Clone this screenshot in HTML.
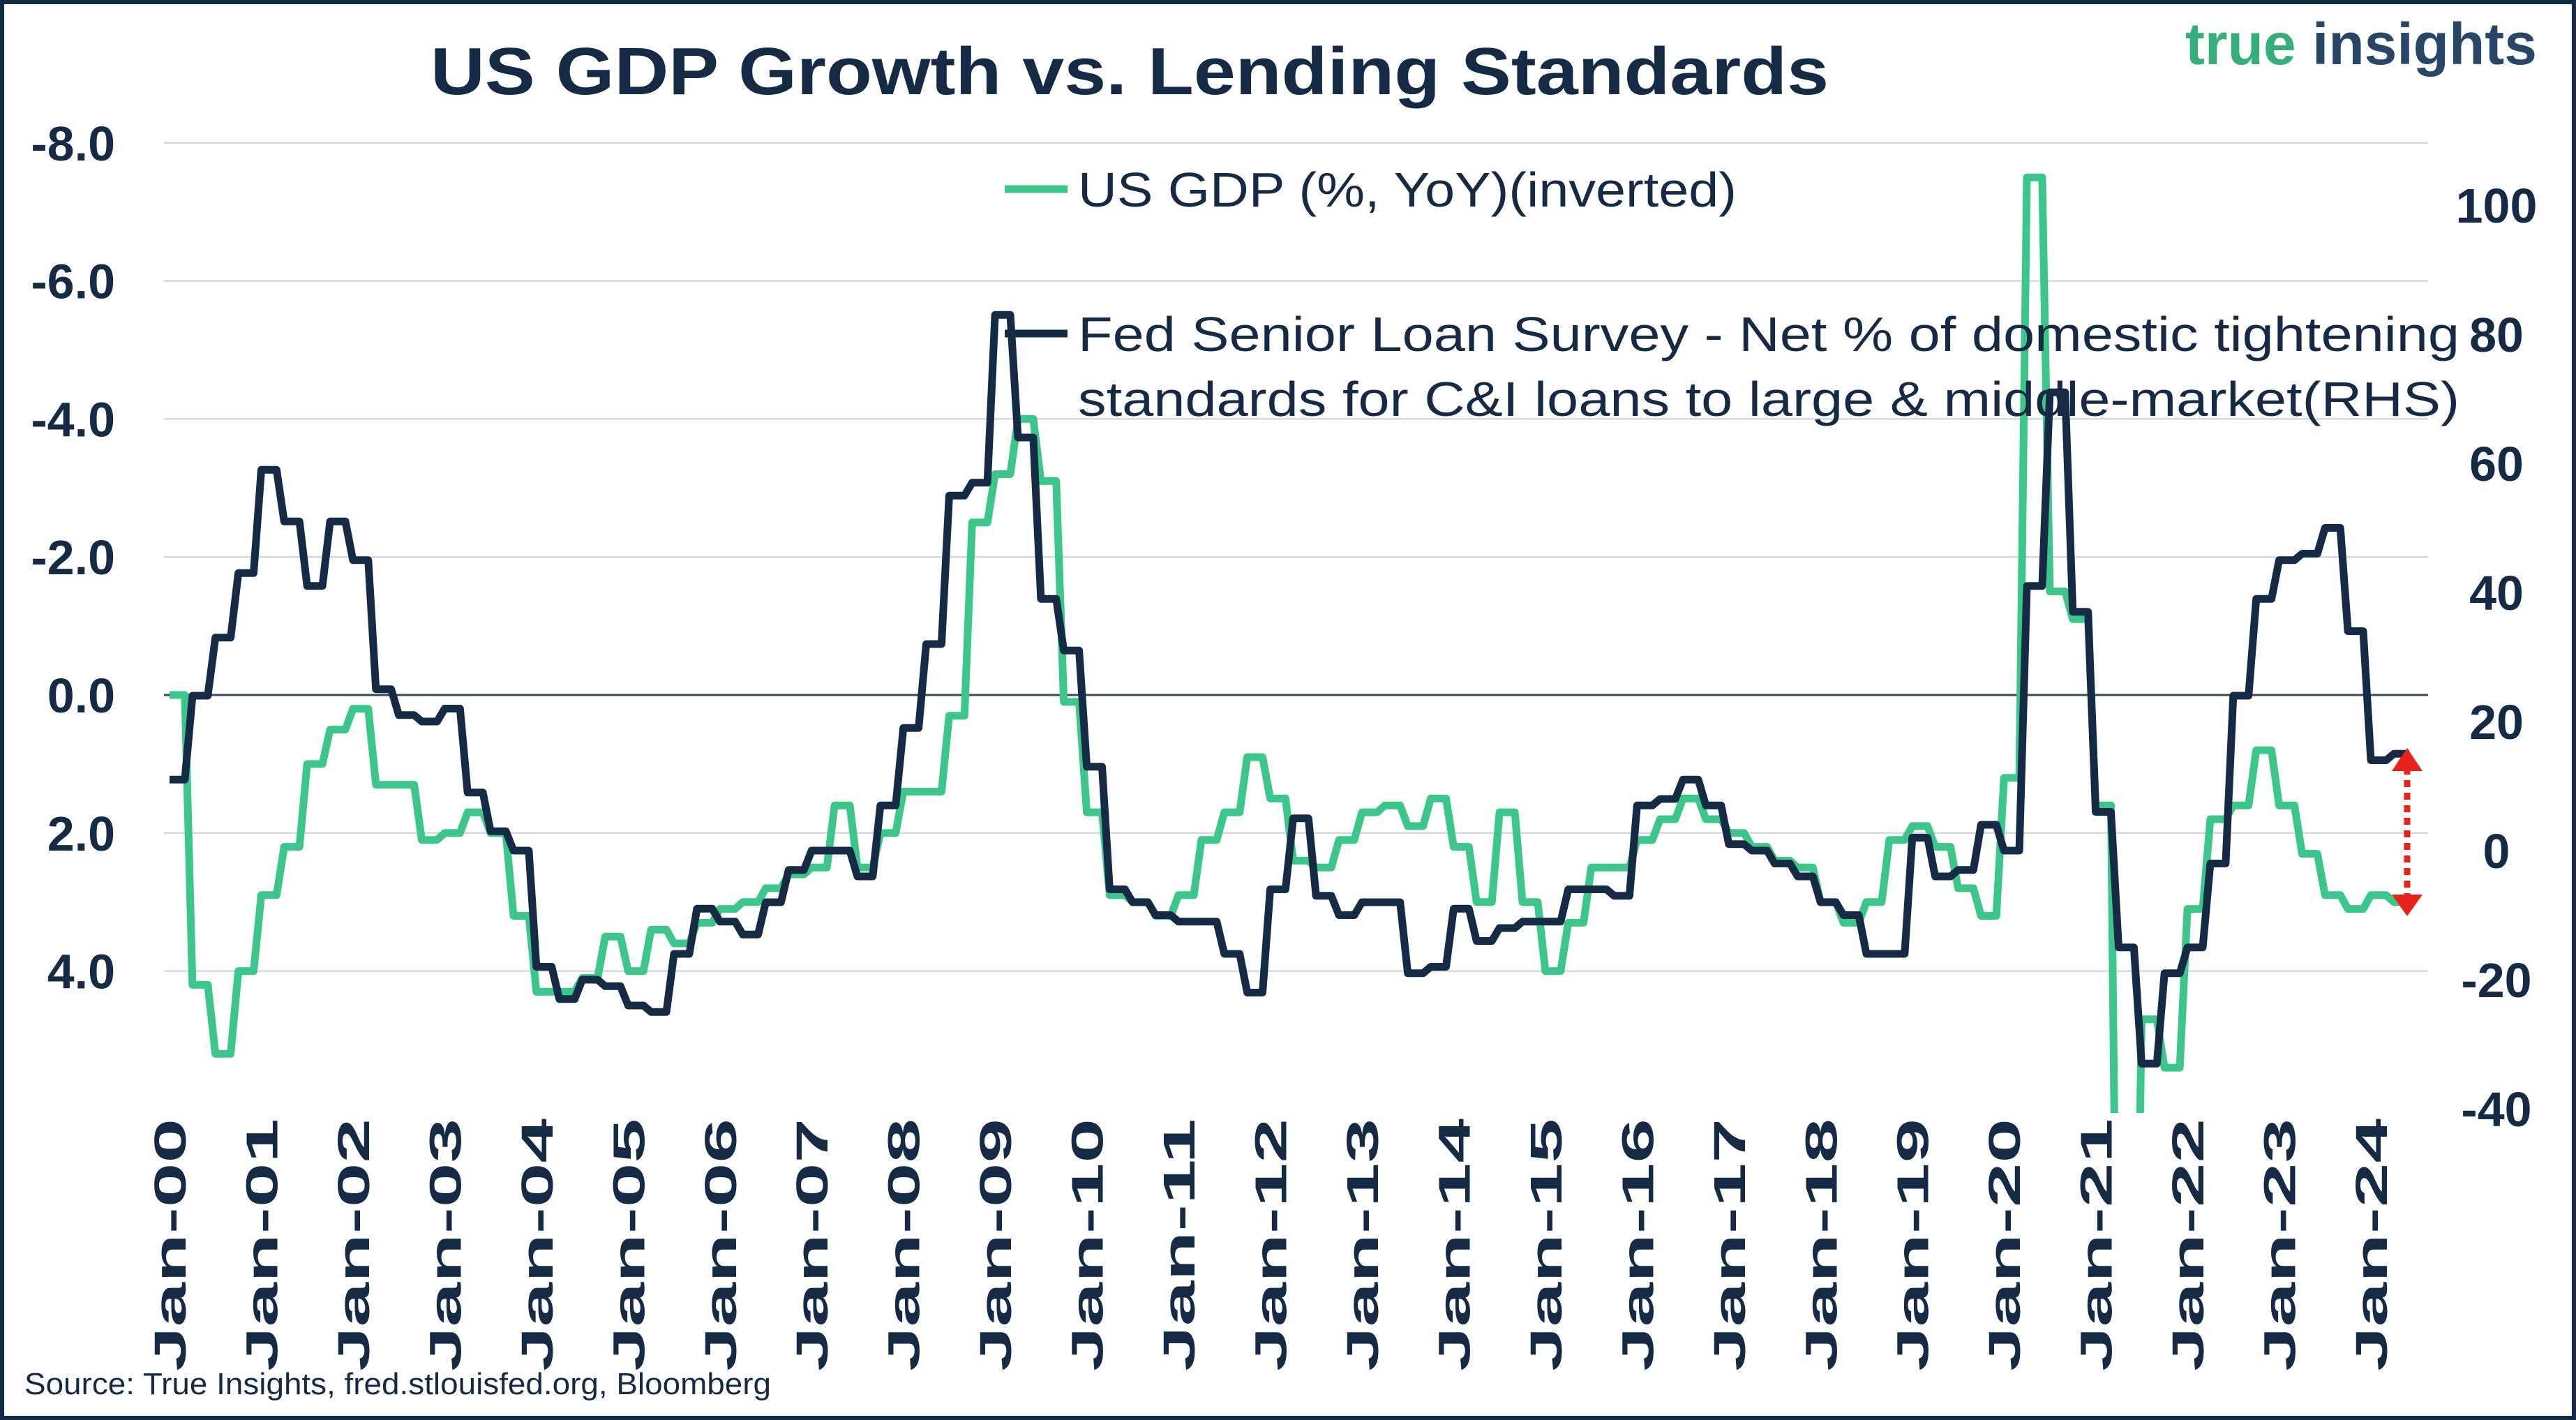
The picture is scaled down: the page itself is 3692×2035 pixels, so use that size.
<!DOCTYPE html>
<html><head><meta charset="utf-8">
<style>
html,body{margin:0;padding:0;background:#fff;width:3692px;height:2035px;overflow:hidden;}
svg{display:block;}
text{font-family:"Liberation Sans",sans-serif;fill:#152a45;}
</style></head>
<body>
<svg id="chart" width="3692" height="2035" viewBox="0 0 3692 2035" xmlns="http://www.w3.org/2000/svg">
<rect x="3" y="3" width="3686" height="2029" fill="#fff" stroke="#152a45" stroke-width="6"/>
<text x="617" y="135" font-size="96" font-weight="bold" textLength="2004" lengthAdjust="spacingAndGlyphs">US GDP Growth vs. Lending Standards</text>
<text x="3636" y="92" text-anchor="end" font-size="84" font-weight="bold"><tspan fill="#35ae7c">true</tspan><tspan fill="#284666"> insights</tspan></text>
<defs><clipPath id="plotclip"><rect x="235" y="195" width="3250" height="1400"/></clipPath></defs>
<g id="grid"></g>
<g id="series" clip-path="url(#plotclip)"></g>
<g id="axes"></g>
<g>
<line x1="1440" y1="271" x2="1530" y2="271" stroke="#3cc68a" stroke-width="11"/>
<text x="1545" y="296" font-size="70" textLength="944" lengthAdjust="spacingAndGlyphs">US GDP (%, YoY)(inverted)</text>
<line x1="1440" y1="478" x2="1530" y2="478" stroke="#152a45" stroke-width="11"/>
<text x="1545" y="503" font-size="70" textLength="1980" lengthAdjust="spacingAndGlyphs">Fed Senior Loan Survey - Net % of domestic tightening</text>
<text x="1545" y="596" font-size="70" textLength="1980" lengthAdjust="spacingAndGlyphs">standards for C&amp;I loans to large &amp; middle-market(RHS)</text>
</g>
<g>
<line x1="3450" y1="1100" x2="3450" y2="1285" stroke="#e8211b" stroke-width="9" stroke-dasharray="10,8"/>
<polygon points="3428,1105 3472,1105 3450,1072" fill="#e8211b"/>
<polygon points="3428,1282 3472,1282 3450,1313" fill="#e8211b"/>
</g>
<text x="35" y="1998" font-size="44" textLength="1070" lengthAdjust="spacingAndGlyphs">Source: True Insights, fred.stlouisfed.org, Bloomberg</text>
</svg>
<script>
const gdp = [0.0,4.2,5.2,4.0, 2.9,2.2,1.0,0.5, 0.2,1.3,1.3,2.1, 2.0,1.7,2.0,3.2, 4.3,4.3,4.1,3.5, 4.0,3.4,3.6,3.3, 3.1,3.0,2.8,2.6, 2.5,1.6,2.5,2.0, 1.4,1.4,0.3,-2.5, -3.2,-4.0,-3.1,0.1, 1.7,2.9,3.0,3.2, 2.9,2.1,1.7,0.9, 1.5,2.4,2.5,2.1, 1.7,1.6,1.9,1.5, 2.2,3.0,1.7,3.0, 4.0,3.3,2.5,2.5, 2.1,1.8,1.5,1.8, 2.0,2.2,2.4,2.5, 3.0,3.3,3.0,2.1, 1.9,2.2,2.8,3.2, 1.2,-7.5,-1.5,-1.1, 1.6,12.0,4.7,5.4, 3.1,1.8,1.6,0.8, 1.6,2.3,2.9,3.1, 2.9,3.0];
const loan = [11,24,33,43, 59,51,41,51, 45,25,21,20, 22,9,3,0, -18,-23,-20,-21, -24,-25,-16,-9, -11,-13,-8,-3, 0,0,-4,7, 19,32,55,57, 83,64,39,31, 13,-6,-8,-10, -11,-11,-16,-22, -6,5,-7,-10, -8,-8,-19,-18, -9,-14,-12,-11, -11,-6,-6,-7, 7,8,11,7, 1,0,-2,-4, -8,-10,-16,-16, 2,-4,-3,4, 0,41,71,37, 6,-15,-33,-19, -15,-2,24,39, 45,46,50,34, 14,15];
const leftTicks = [-8,-6,-4,-2,0,2,4];
const leftTickLabels = ["-8.0","-6.0","-4.0","-2.0","0.0","2.0","4.0"];
const rightTicks = [100,80,60,40,20,0,-20,-40];
const xYears = ["00","01","02","03","04","05","06","07","08","09","10","11","12","13","14","15","16","17","18","19","20","21","22","23","24"];

const NS="http://www.w3.org/2000/svg";
const x0=243, perMonth=(3398-243)/288;
function xM(m){return x0+m*perMonth;}
function yL(v){return 996+v*98.9;}
function yR(v){return 1034-(v-20)*9.25;}
function mk(tag,attrs,parent){const e=document.createElementNS(NS,tag);for(const k in attrs)e.setAttribute(k,attrs[k]);parent.appendChild(e);return e;}
const grid=document.getElementById('grid'), axes=document.getElementById('axes'), ser=document.getElementById('series');

leftTicks.forEach((t,i)=>{
  const l=mk('line',{x1:235,x2:3480,y1:yL(t),y2:yL(t),stroke:t===0?'#3a4a5c':'#c9d0d8','stroke-width':t===0?3:2},grid);
  
  
  const tx=mk('text',{x:165,y:yL(t)+25,'text-anchor':'end','font-size':70,'font-weight':'bold'},axes);
  tx.textContent=leftTickLabels[i];
  
  
});
rightTicks.forEach(t=>{
  const tx=mk('text',{x:3578,y:yR(t)+25,'text-anchor':'middle','font-size':70,'font-weight':'bold'},axes);
  tx.textContent=String(t);
  
  
});
xYears.forEach((y,i)=>{
  const x=xM(i*12);
  const tx=mk('text',{x:0,y:0,'text-anchor':'end','font-size':64,'font-weight':'bold',textLength:362,lengthAdjust:'spacingAndGlyphs',transform:`translate(${x+23},1603) rotate(-90)`},axes);
  tx.textContent='Jan-'+y;
  
  
});
function pathFor(arr,yf){
  let d='';
  arr.forEach((v,i)=>{const a=xM(i*3),b=xM(i*3+2),y=yf(v);d+=(i===0?'M':'L')+a.toFixed(1)+','+y.toFixed(1)+'L'+b.toFixed(1)+','+y.toFixed(1);});
  return d;
}
const pg=mk('path',{d:pathFor(gdp,yL),fill:'none',stroke:'#3cc68a','stroke-width':11,'stroke-linejoin':'round'},ser);


const pl=mk('path',{d:pathFor(loan,yR),fill:'none',stroke:'#152a45','stroke-width':11,'stroke-linejoin':'round'},ser);


</script>
</body></html>
